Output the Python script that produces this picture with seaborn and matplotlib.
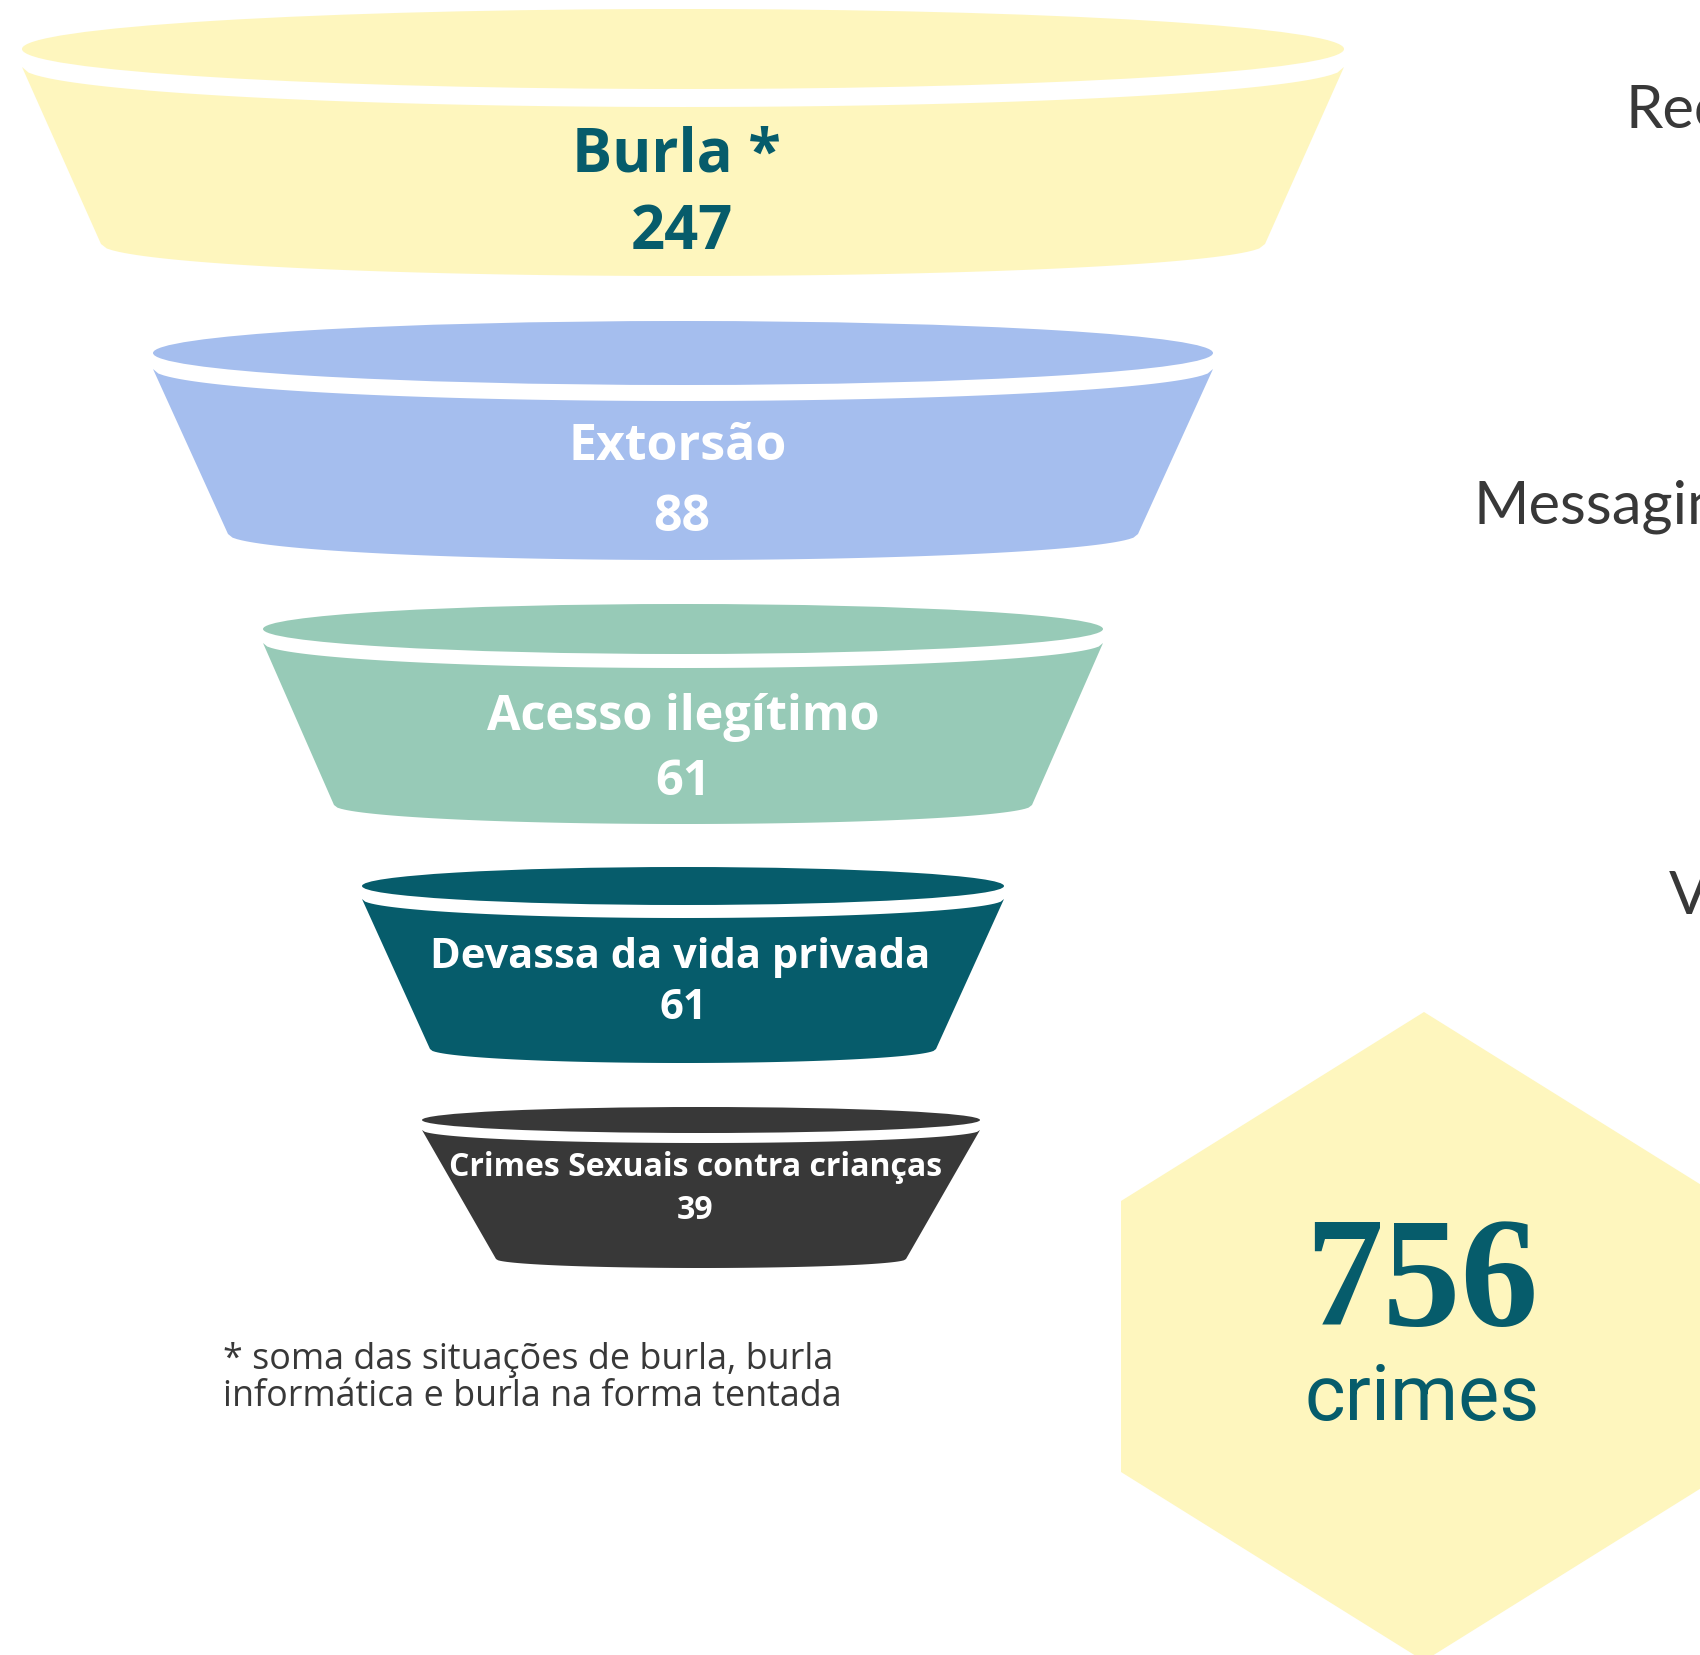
import matplotlib.pyplot as plt
import numpy as np
import seaborn as sns
from matplotlib.patches import Ellipse, Polygon

# data
categories = ["Burla *", "Extorsão", "Acesso ilegítimo",
              "Devassa da vida privada", "Crimes Sexuais contra crianças"]
counts = [247, 88, 61, 61, 39]
total = 756
total_label = "crimes"
channels = ["Recursos", "Messaging", "Videojogos"]
footnote = ["* soma das situações de burla, burla",
            "informática e burla na forma tentada"]

# funnel colours and text colours
colors = ["#FEF6BE", "#A5BEEE", "#97CAB7", "#065C6B", "#383838"]
text_colors = ["#065C6B", "white", "white", "white", "white"]

# cup geometry in pixels: cx, half width, ellipse cy, ellipse half height,
# gap, bottom half width, bottom y, bottom arc depth
cups = [
    (683, 661, 49, 40, 18, 582, 244, 32),
    (683, 530, 353, 32, 16, 455, 534, 26),
    (683, 420, 629, 25, 14, 349, 805, 19),
    (683, 321, 886, 19, 13, 253, 1049, 14),
    (701, 279, 1120, 13, 10, 205, 1259, 9),
]
# label x, label baseline, number x, number baseline, font size
labels_pos = [
    (676, 172, 682, 249, 43),
    (678, 460, 682, 531, 36),
    (683, 730, 683, 795, 35),
    (680, 968, 683, 1019, 30),
    (696, 1176, 695, 1219, 23),
]

sns.set_theme(style="white")
plt.rcParams['font.family'] = ['Open Sans', 'DejaVu Sans']

fig = plt.figure(figsize=(17, 16.55), dpi=100)
ax = fig.add_axes([0, 0, 1, 1])
ax.set_xlim(0, 1700)
ax.set_ylim(1655, 0)
ax.axis("off")

palette = sns.color_palette(colors)

for i, (cx, hw, cy, h, d, bw, by, k) in enumerate(cups):
    col = palette[i]
    ax.add_patch(Ellipse((cx, cy), 2 * hw, 2 * h, color=col, lw=0))
    xs = np.linspace(-1, 1, 200)
    top = np.column_stack([cx + hw * xs, cy + d + h * np.sqrt(1 - xs ** 2)])
    bot = np.column_stack([cx - bw * xs, by + k * np.sqrt(1 - xs ** 2)])
    ax.add_patch(Polygon(np.vstack([top, bot]), closed=True, color=col, lw=0))

    lx, lb, nx, nb, fs = labels_pos[i]
    ax.text(lx, lb, categories[i], ha="center", va="baseline",
            fontsize=fs, fontweight="bold", color=text_colors[i])
    ax.text(nx, nb, str(counts[i]), ha="center", va="baseline",
            fontsize=fs, fontweight="bold", color=text_colors[i])

# footnote
ax.text(223, 1369, footnote[0], ha="left", va="baseline", fontsize=25.8,
        color="#383838")
ax.text(223, 1406, footnote[1], ha="left", va="baseline", fontsize=25.8,
        color="#383838")

# channel labels, cut by the right edge as in the original
for name, (x, y) in zip(channels, [(1626, 128), (1474, 523), (1669, 913)]):
    ax.text(x, y, name, ha="left", va="baseline", fontsize=43,
            family=["Lato", "DejaVu Sans"], color="#383838")

# hexagon with total
hexagon = np.array([(1424, 1012), (1727, 1201), (1727, 1472),
                    (1424, 1661), (1121, 1472), (1121, 1201)])
ax.add_patch(Polygon(hexagon, closed=True, color=colors[0], lw=0))
ax.text(1422, 1325, str(total), ha="center", va="baseline", fontsize=112,
        fontweight="bold", family=["Liberation Serif", "DejaVu Serif"],
        color="#065C6B")
ax.text(1422, 1420, total_label, ha="center", va="baseline", fontsize=56,
        family=["Roboto", "DejaVu Sans"], color="#065C6B")

fig.savefig("out.png", dpi=100)
